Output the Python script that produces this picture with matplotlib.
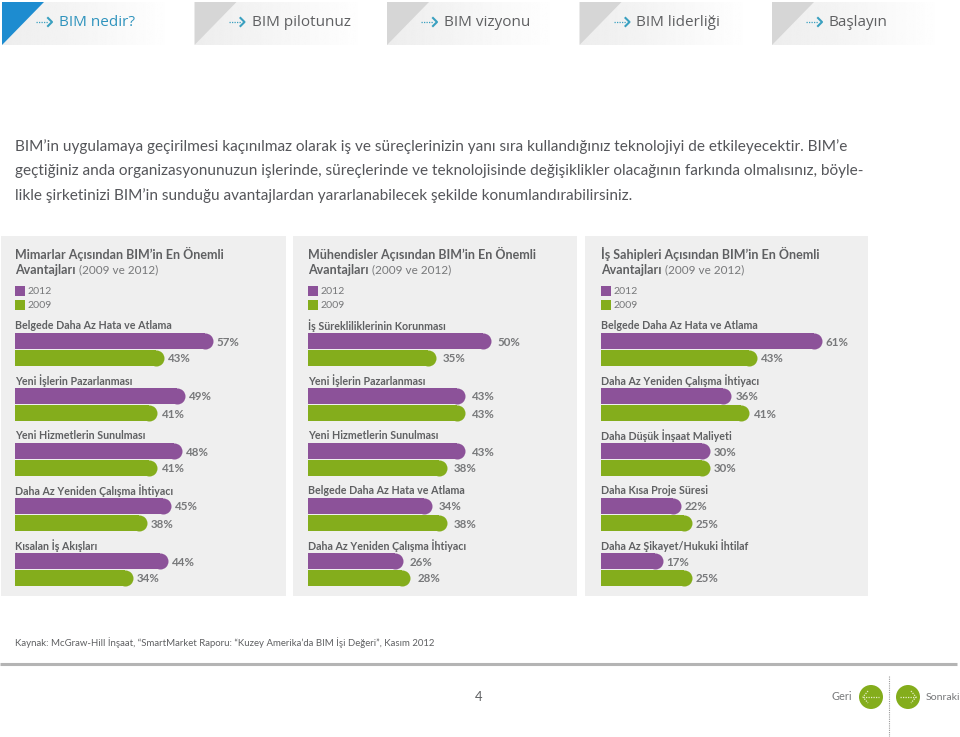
import matplotlib
matplotlib.use('Agg')
import matplotlib.pyplot as plt
from matplotlib.patches import Rectangle, Polygon, Circle
import numpy as np

plt.rcParams['font.family'] = ['Lato', 'DejaVu Sans']

PURPLE = '#8c5299'
GREEN = '#84ad1c'
GRAY = '#5f6062'

tabs = ['BIM nedir?', 'BIM pilotunuz', 'BIM vizyonu', 'BIM liderliği', 'Başlayın']
intro = ['BIM’in uygulamaya geçirilmesi kaçınılmaz olarak iş ve süreçlerinizin yanı sıra kullandığınız teknolojiyi de etkileyecektir. BIM’e',
         'geçtiğiniz anda organizasyonunuzun işlerinde, süreçlerinde ve teknolojisinde değişiklikler olacağının farkında olmalısınız, böyle-',
         'likle şirketinizi BIM’in sunduğu avantajlardan yararlanabilecek şekilde konumlandırabilirsiniz.']

title_1 = 'Mimarlar Açısından BIM’in En Önemli'
title_2 = 'Mühendisler Açısından BIM’in En Önemli'
title_3 = 'İş Sahipleri Açısından BIM’in En Önemli'

cats_1 = ['Belgede Daha Az Hata ve Atlama', 'Yeni İşlerin Pazarlanması', 'Yeni Hizmetlerin Sunulması',
          'Daha Az Yeniden Çalışma İhtiyacı', 'Kısalan İş Akışları']
v2012_1 = [57, 49, 48, 45, 44]
v2009_1 = [43, 41, 41, 38, 34]

cats_2 = ['İş Sürekliliklerinin Korunması', 'Yeni İşlerin Pazarlanması', 'Yeni Hizmetlerin Sunulması',
          'Belgede Daha Az Hata ve Atlama', 'Daha Az Yeniden Çalışma İhtiyacı']
v2012_2 = [50, 43, 43, 34, 26]
v2009_2 = [35, 43, 38, 38, 28]

cats_3 = ['Belgede Daha Az Hata ve Atlama', 'Daha Az Yeniden Çalışma İhtiyacı', 'Daha Düşük İnşaat Maliyeti',
          'Daha Kısa Proje Süresi', 'Daha Az Şikayet/Hukuki İhtilaf']
v2012_3 = [61, 36, 30, 22, 17]
v2009_3 = [43, 41, 30, 25, 25]

W, H = 960, 737
fig = plt.figure(figsize=(W / 100, H / 100), dpi=100)
bg = fig.add_axes([0, 0, 1, 1])
bg.set_xlim(0, W)
bg.set_ylim(H, 0)
bg.axis('off')


def px(size):
    return size * 0.72


def put(x, y, s, size=12, color=GRAY, **kw):
    kw.setdefault('va', 'center')
    bg.text(x, y, s, fontsize=px(size), color=color, **kw)


def arrow(x, y, color='#3aa0c0'):
    bg.plot([x, x + 12], [y, y], color=color, lw=0.9, ls=(0, (1, 1)))
    bg.plot([x + 12, x + 16, x + 12], [y - 4, y, y + 4], color=color, lw=1.5)


# top tabs
fade = np.linspace(0.93, 1, 256).reshape(1, -1)
for i, name in enumerate(tabs):
    x0 = 2 + i * 192.5
    bg.imshow(fade, extent=[x0, x0 + 172, 45, 2], cmap='gray', vmin=0, vmax=1, aspect='auto', zorder=1)
    tri = '#1d8cd0' if i == 0 else '#d6d6d6'
    bg.add_patch(Polygon([[x0, 2], [x0 + 42, 2], [x0, 45]], color=tri, lw=0, zorder=2))
    arrow(x0 + 34, 22)
    put(x0 + 57, 22, name, 15.2, '#2f93bd' if i == 0 else GRAY, zorder=3, family=['Open Sans', 'DejaVu Sans'])
bg.set_xlim(0, W)
bg.set_ylim(H, 0)

for i, line in enumerate(intro):
    put(15, 147 + i * 24.3, line, 15.35, '#55565a')


def panel(x0, x1, bar_x, scale, title, cats, v2012, v2009, gap):
    bg.add_patch(Rectangle((x0, 236), x1 - x0, 360, color='#efefef', lw=0))
    put(bar_x, 254, title, 12.5, GRAY, fontweight='bold')
    put(bar_x, 270, 'Avantajları', 12.5, GRAY, fontweight='bold')
    put(bar_x + 64, 270, '(2009 ve 2012)', 11.8, '#77787a')
    bg.add_patch(Rectangle((bar_x, 286), 10, 10, color=PURPLE, lw=0))
    bg.add_patch(Rectangle((bar_x, 300), 10, 10, color=GREEN, lw=0))
    put(bar_x + 13, 291, '2012', 10.5, '#77787a')
    put(bar_x + 13, 305, '2009', 10.5, '#77787a')
    for i, c in enumerate(cats):
        put(bar_x, 325.5 + i * 55, c, 10.6, GRAY, fontweight='bold')

    # bars: one axes per panel, x in percent, y in px rows
    ax = fig.add_axes([bar_x / W, 1 - 596 / H, (x1 - bar_x) / W, (596 - 325) / H])
    ax.patch.set_alpha(0)
    ax.set_xlim(0, (x1 - bar_x) / scale)
    ax.set_ylim(271, 0)
    ax.axis('off')
    r = 8 / scale
    for i in range(len(cats)):
        top = 8 + i * 55
        for val, y, col in [(v2012[i], top, PURPLE), (v2009[i], top + 17, GREEN)]:
            ax.barh(y, val - r, height=16, left=0, align='edge', color=col, lw=0)
            ax.plot(val - r, y + 8, 'o', ms=px(16), mfc=col, mew=0)
            ax.annotate('%d%%' % val, (val, y + 9), xytext=(gap, 0), textcoords='offset points',
                        fontsize=px(11.5), fontweight='bold', color='#77787a', va='center')


panel(1, 286, 15, 3.47, title_1, cats_1, v2012_1, v2009_1, 3)
panel(293, 577, 308, 3.65, title_2, cats_2, v2012_2, v2009_2, 5)
panel(585, 868, 601, 3.62, title_3, cats_3, v2012_3, v2009_3, 3)

put(15, 642.5, 'Kaynak: McGraw-Hill İnşaat, “SmartMarket Raporu: “Kuzey Amerika’da BIM İşi Değeri”, Kasım 2012', 9.7, GRAY)

# footer
bg.plot([0, 957], [664, 664], color='#b4b4b4', lw=2.2, solid_capstyle='butt')
bg.plot([889, 889], [676, 737], color='#9a9a9a', lw=0.8, ls=(0, (1, 1)))
put(479, 697, '4', 13, GRAY, ha='center')
put(832, 697, 'Geri', 11, '#77787a')
put(926, 697, 'Sonraki', 10.5, '#77787a')
for cx, sign in [(871, -1), (908, 1)]:
    bg.add_patch(Circle((cx, 697), 12, color=GREEN, lw=0))
    bg.plot([cx - 8, cx + 8], [697, 697], color='#e6efc8', lw=0.9, ls=(0, (1, 1)))
    bg.plot([cx + sign * 3, cx + sign * 8, cx + sign * 3], [691, 697, 703], color='#e6efc8', lw=0.9, ls=(0, (1, 1)))

fig.savefig('out.png', dpi=100)
